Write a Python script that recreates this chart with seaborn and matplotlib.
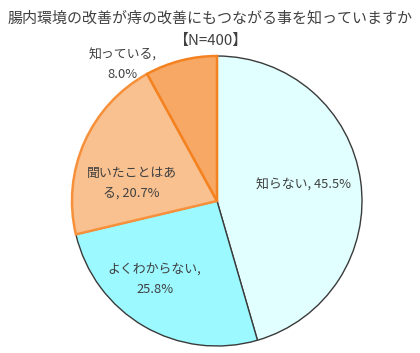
import numpy as np
import matplotlib
matplotlib.use("Agg")
import matplotlib.pyplot as plt
import seaborn as sns

sns.set_theme(style="white")
plt.rcParams['font.family'] = ['Noto Sans CJK JP', 'DejaVu Sans']

categories = ["知らない", "よくわからない", "聞いたことはある", "知っている"]
values = [45.5, 25.8, 20.7, 8.0]
label_texts = ["知らない, 45.5%", "よくわからない,\n25.8%", "聞いたことはあ\nる, 20.7%", "知っている,\n8.0%"]
colors = ["#E1FFFF", "#9CF9FF", "#FAC190", "#F7A865"]
edge_colors = ["#3A3A3A", "#3A3A3A", "#F7903A", "#F58220"]
title_lines = ["腸内環境の改善が痔の改善にもつながる事を知っていますか", "【N=400】"]

W, H = 420, 353
fig = plt.figure(figsize=(W / 100, H / 100), dpi=100)
cx, cy, R = 217, 353 - 201, 145
ax = fig.add_axes([(cx - R) / W, (cy - R) / H, 2 * R / W, 2 * R / H])

wedges, _ = ax.pie(values, colors=colors, startangle=90, counterclock=False,
                   radius=1.0, wedgeprops=dict(linewidth=1.0))
for w, ec in zip(wedges, edge_colors):
    w.set_edgecolor(ec)
for w in wedges[2:]:
    w.set_linewidth(1.8)
ax.set_xlim(-1, 1)
ax.set_ylim(-1, 1)
ax.axis("off")

# label positions (fraction of radius)
pos = [(0.60, 0.11), (-0.43, -0.54), (-0.59, 0.12), (-0.65, 0.94)]
for (x, y), t in zip(pos, label_texts):
    ax.text(x, y, t, ha="center", va="center", fontsize=9.3, color="#404040",
            linespacing=1.7, clip_on=False)

fig.text(0.5, 1 - 18 / H, title_lines[0], ha="center", va="center",
         fontsize=10.8, color="#404040")
fig.text(0.5, 1 - 41 / H, title_lines[1], ha="center", va="center",
         fontsize=10.8, color="#404040")

fig.savefig("out.png", dpi=100)
